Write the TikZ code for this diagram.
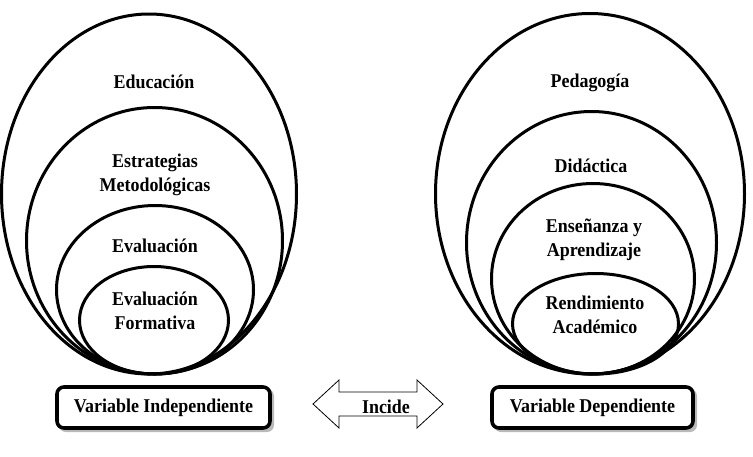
\documentclass[tikz,border=0pt]{standalone}
\usepackage{fontspec}
\setmainfont[FakeStretch=0.92]{Liberation Serif}
\usetikzlibrary{shapes.geometric}
\begin{document}
\begin{tikzpicture}[x=1pt,y=-1pt,
  ell/.style={draw, ellipse, line width=3pt, inner sep=0pt},
  lbl/.style={font=\bfseries\fontsize{19.5}{24}\selectfont, align=center, anchor=base, inner sep=0pt},
  varbox/.style={draw, line width=3.6pt, rounded corners=7pt, fill=white, minimum height=41pt, inner sep=0pt,
     font=\bfseries\fontsize{19.5}{21}\selectfont},
  shadowbox/.style={fill=gray!55, rounded corners=7pt, minimum height=43pt, inner sep=0pt},
  arr/.style={draw, line width=0.8pt, fill=white, line join=miter}
]
\useasboundingbox (0,0) rectangle (753,456);
% left group
\node (L1) [ell, minimum width=295pt, minimum height=360pt] at (149,194) {};
\node (L2) [ell, minimum width=256pt, minimum height=266.5pt] at (154.5,240.75) {};
\node (L3) [ell, minimum width=197pt, minimum height=168.5pt] at (155,289.75) {};
\node (L4) [ell, minimum width=149pt, minimum height=107.5pt] at (154,320.25) {};
\node (tL1) [lbl] at (154,88) {Educación};
\node (tL2) [lbl] at (155,191) {Estrategias\\Metodológicas};
\node (tL3) [lbl] at (155,252) {Evaluación};
\node (tL4) [lbl] at (155,329) {Evaluación\\Formativa};
% right group
\node (R1) [ell, minimum width=309pt, minimum height=360.5pt] at (590,193.75) {};
\node (R2) [ell, minimum width=250pt, minimum height=262.5pt] at (591.5,242.75) {};
\node (R3) [ell, minimum width=203pt, minimum height=190.5pt] at (593,278.75) {};
\node (R4) [ell, minimum width=166pt, minimum height=100.5pt] at (595.5,323.75) {};
\node (tR1) [lbl] at (590,87) {Pedagogía};
\node (tR2) [lbl] at (591,172) {Didáctica};
\node (tR3) [lbl] at (594,256) {Enseñanza y\\Aprendizaje};
\node (tR4) [lbl] at (595,333) {Rendimiento\\Académico};
% bottom boxes
\node (sI) [shadowbox, minimum width=215pt] at (166.5,410.5) {};
\node (vI) [varbox, minimum width=213pt] at (163.5,407.5) {Variable Independiente};
\node (sD) [shadowbox, minimum width=203pt] at (595.5,410.5) {};
\node (vD) [varbox, minimum width=201pt] at (592.5,407.5) {Variable Dependiente};
% double arrow
\coordinate (ac) at (378,404);
\draw[arr] (ac) ++(-65,0) -- ++(26,-24) -- ++(0,12) -- ++(78,0) -- ++(0,-12) -- ++(26,24)
  -- ++(-26,24) -- ++(0,-12) -- ++(-78,0) -- ++(0,12) -- cycle;
\node (inc) [lbl, anchor=base] at (386,413) {Incide};
\end{tikzpicture}
\end{document}
